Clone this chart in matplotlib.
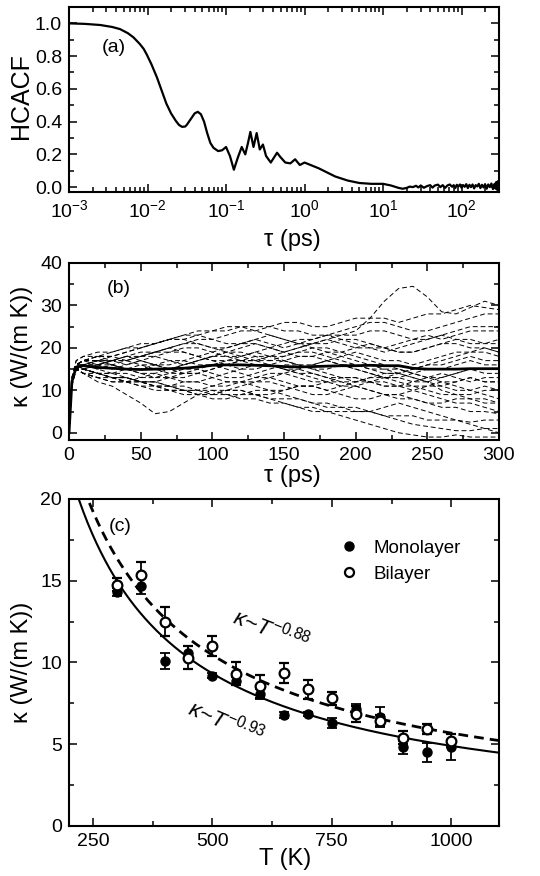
import numpy as np
import matplotlib
matplotlib.use("Agg")
import matplotlib.pyplot as plt
from matplotlib.ticker import MultipleLocator, LogLocator, NullFormatter
from matplotlib.lines import Line2D

plt.rcParams['font.family'] = ['Liberation Sans', 'DejaVu Sans']
plt.rcParams['mathtext.fontset'] = 'custom'
plt.rcParams['mathtext.rm'] = 'Liberation Sans'
plt.rcParams['mathtext.it'] = 'Liberation Sans:italic'

# ---- panel (a): HCACF vs log10(tau)
hc_logtau = [-3.0, -2.8, -2.6, -2.45, -2.35, -2.25, -2.18, -2.1, -2.05, -2.01, -1.95,
             -1.88, -1.82, -1.76, -1.7, -1.64, -1.6, -1.56, -1.52, -1.5, -1.45, -1.4, -1.36,
             -1.32, -1.28, -1.24, -1.2, -1.16, -1.1, -1.05, -1.0, -0.95, -0.9,
             -0.85, -0.8, -0.755, -0.72, -0.69, -0.65, -0.61, -0.57, -0.53, -0.49,
             -0.43, -0.39, -0.35, -0.31, -0.245, -0.18, -0.12, -0.06, 0.0, 0.18,
             0.39, 0.55, 0.7, 0.85, 1.0, 1.1, 1.2, 1.25,
             1.3, 1.34, 1.38, 1.42, 1.45, 1.48, 1.52, 1.56, 1.6, 1.63,
             1.66, 1.7, 1.73, 1.76, 1.79, 1.82, 1.85, 1.88, 1.9, 1.92,
             1.94, 1.96, 1.98, 2.0, 2.02, 2.04, 2.06, 2.08, 2.1, 2.12,
             2.14, 2.16, 2.18, 2.2, 2.22, 2.24, 2.26, 2.28, 2.3, 2.32,
             2.34, 2.36, 2.38, 2.4, 2.42, 2.43, 2.44, 2.45, 2.46, 2.47, 2.477]
hcacf = [1.0, 0.997, 0.99, 0.978, 0.965, 0.94, 0.915, 0.875, 0.845, 0.81, 0.75,
         0.67, 0.59, 0.51, 0.45, 0.405, 0.38, 0.368, 0.37, 0.38, 0.415, 0.45, 0.46,
         0.445, 0.40, 0.33, 0.27, 0.24, 0.22, 0.225, 0.245, 0.19, 0.106,
         0.18, 0.245, 0.20, 0.27, 0.337, 0.245, 0.33, 0.23, 0.26, 0.19,
         0.15, 0.18, 0.21, 0.185, 0.15, 0.145, 0.17, 0.135, 0.15, 0.115,
         0.065, 0.04, 0.025, 0.02, 0.02, 0.01, -0.005, -0.01,
         -0.005, 0.003, 0.0, 0.008, -0.002, 0.01, -0.004, 0.006, 0.012, -0.003,
         0.01, 0.015, 0.0, 0.012, -0.005, 0.01, 0.016, 0.002, 0.012, -0.006,
         0.014, 0.004, 0.016, -0.004, 0.012, 0.002, 0.018, -0.006, 0.014, 0.0,
         0.016, -0.008, 0.012, 0.004, 0.02, -0.006, 0.014, -0.002, 0.018, -0.01,
         0.016, 0.0, 0.022, -0.012, 0.02, -0.008, 0.03, -0.015, 0.035, -0.02, 0.04]

# ---- panel (b): running kappa integrals
kap_tau = [0, 2, 5] + list(range(10, 301, 10))
kap_mean = [0, 12, 15.5, 15.8, 15.4, 15.2, 15.0, 14.9, 15.0, 15.1, 15.2, 15.5, 15.9,
            16.0, 16.0, 15.9, 15.8, 15.6, 15.5, 15.6, 15.7, 15.8, 15.8,
            15.9, 15.8, 15.8, 15.2, 15.0, 15.0, 15.0, 15.1, 15.1, 15.1]
kap_runs = [
    [0, 12, 16, 17, 17, 18, 19, 20, 21, 22, 22, 23, 24, 24, 25, 25, 25, 24, 24, 23, 23, 23, 24, 27, 31, 34, 34.5, 32, 28.5, 28, 29.5, 31, 30],
    [0, 12, 15, 16, 17, 17, 18, 18, 19, 20, 21, 22, 22, 23, 24, 24, 25, 26, 26, 25, 25, 26, 27, 27, 27, 26, 27, 28, 28, 29, 30, 29.5, 29],
    [0, 13, 17, 18, 19, 19, 20, 20, 21, 22, 23, 23, 22, 21, 21, 22, 23, 22, 21, 21, 22, 23, 23, 24, 24, 23, 22, 22, 23, 24, 25, 25, 25],
    [0, 12, 16, 17, 18, 18, 17, 18, 19, 20, 19, 18, 19, 20, 21, 22, 21, 20, 21, 22, 23, 22, 21, 20, 20, 21, 22, 23, 22, 23, 24, 24, 24],
    [0, 11, 15, 16, 15, 16, 17, 18, 18, 17, 16, 17, 18, 19, 20, 21, 20, 19, 20, 21, 22, 21, 20, 20, 19, 20, 21, 22, 23, 22, 22, 21, 22],
    [0, 12, 16, 15, 16, 17, 16, 17, 18, 19, 19, 18, 17, 17, 18, 19, 18, 18, 19, 20, 20, 19, 20, 21, 20, 19, 19, 20, 21, 22, 21, 21, 21],
    [0, 12, 15, 16, 16, 15, 16, 17, 16, 15, 16, 17, 18, 19, 19, 18, 17, 17, 16, 16, 17, 18, 19, 18, 17, 17, 16, 17, 18, 19, 19, 20, 19],
    [0, 12, 16, 17, 17, 16, 15, 15, 16, 17, 17, 16, 16, 17, 17, 18, 18, 17, 16, 15, 15, 16, 16, 15, 14, 14, 15, 16, 16, 17, 18, 17, 17],
    [0, 13, 16, 16, 15, 14, 14, 13, 14, 15, 16, 17, 18, 18, 17, 16, 16, 15, 15, 16, 17, 16, 15, 14, 13, 13, 14, 15, 15, 16, 17, 16, 16],
    [0, 12, 15, 16, 16, 17, 17, 16, 15, 14, 14, 15, 16, 15, 14, 13, 13, 14, 15, 14, 13, 12, 12, 13, 14, 14, 13, 12, 13, 14, 15, 14, 14],
    [0, 12, 15, 14, 14, 13, 13, 12, 12, 13, 14, 14, 13, 12, 12, 13, 14, 14, 13, 12, 12, 13, 13, 12, 11, 11, 12, 13, 14, 13, 12, 13, 13],
    [0, 12, 15, 15, 14, 13, 12, 12, 11, 11, 12, 12, 11, 11, 12, 12, 13, 12, 11, 11, 10, 11, 12, 13, 13, 12, 11, 11, 12, 12, 13, 12, 12],
    [0, 12, 15, 15, 14, 14, 13, 12, 12, 11, 10, 10, 11, 12, 12, 11, 10, 10, 11, 11, 12, 12, 11, 10, 9, 9, 10, 11, 11, 10, 10, 11, 10],
    [0, 11, 15, 14, 13, 12, 12, 11, 11, 10, 10, 9, 9, 10, 10, 9, 9, 10, 11, 11, 10, 9, 8, 8, 9, 9, 8, 7, 7, 8, 8, 7, 7],
    [0, 12, 15, 14, 12, 11, 9, 7, 4.5, 5, 7, 9, 10, 10, 11, 12, 12, 11, 10, 9, 9, 10, 11, 10, 9, 8, 8, 7, 6, 6, 5, 5, 4.5],
    [0, 12, 16, 15, 14, 13, 13, 12, 12, 11, 10, 10, 9, 9, 8, 8, 7, 7, 6, 6, 5, 5, 5, 5, 4, 4, 4, 3, 3, 3, 2.5, 3, 3],
    [0, 12, 15, 14, 13, 13, 12, 12, 11, 11, 11, 10, 10, 9, 9, 9, 8, 8, 8, 7, 7, 6, 6, 5, 4, 3, 2, 1.5, 1, 0.5, 0.5, 1, 1],
    [0, 12, 15, 15, 14, 13, 13, 12, 11, 10, 10, 9, 9, 10, 10, 9, 8, 7, 6, 5, 5, 4, 3, 2, 1, 0, -0.5, -1, -1, -0.5, -1, -1, -1],
    [0, 12, 16, 16, 17, 17, 18, 19, 19, 20, 21, 21, 20, 19, 18, 17, 17, 18, 19, 19, 18, 17, 16, 15, 15, 14, 13, 12, 10, 9, 8, 8, 7],
    [0, 12, 16, 17, 18, 18, 19, 20, 21, 22, 22, 21, 20, 20, 21, 21, 20, 19, 18, 18, 19, 19, 18, 17, 16, 15, 14, 13, 13, 14, 15, 15, 15],
    [0, 12, 15, 15, 14, 14, 15, 16, 16, 15, 14, 14, 15, 16, 17, 17, 18, 19, 20, 21, 21, 22, 22, 21, 20, 19, 19, 20, 21, 21, 20, 20, 19],
    [0, 12, 15, 14, 13, 12, 12, 13, 13, 14, 15, 15, 14, 13, 13, 14, 15, 16, 16, 15, 14, 13, 13, 12, 12, 11, 11, 10, 9, 9, 9, 10, 10],
    [0, 12, 16, 17, 18, 19, 20, 21, 21, 22, 23, 24, 24, 25, 25, 24, 23, 22, 21, 20, 19, 18, 17, 16, 15, 15, 14, 13, 12, 11, 10, 9, 8],
    [0, 12, 15, 15, 14, 13, 12, 11, 10, 10, 9, 9, 8, 8, 9, 10, 10, 9, 8, 7, 6, 6, 5, 5, 6, 7, 6, 5, 4, 3, 2, 1, 0],
    [0, 13, 17, 18, 18, 17, 17, 18, 19, 19, 20, 20, 19, 18, 18, 19, 20, 21, 22, 22, 23, 24, 25, 26, 26, 25, 24, 24, 25, 26, 27, 28, 28],
    [0, 12, 15, 16, 17, 16, 15, 14, 13, 13, 12, 12, 13, 14, 15, 16, 16, 15, 14, 13, 12, 11, 11, 12, 13, 14, 15, 16, 17, 18, 19, 19, 18],
    [0, 12, 15, 15, 16, 16, 15, 14, 14, 13, 13, 14, 15, 16, 17, 17, 16, 15, 14, 14, 13, 13, 12, 12, 11, 11, 10, 9, 8, 7, 7, 6, 5],
    [0, 12, 16, 17, 16, 17, 18, 17, 16, 16, 17, 18, 17, 16, 15, 15, 16, 17, 18, 18, 17, 16, 15, 14, 13, 13, 12, 12, 11, 12, 13, 12, 12],
]

# ---- panel (c): kappa vs temperature
temps = [300, 350, 400, 450, 500, 550, 600, 650, 700, 750, 800, 850, 900, 950, 1000]
mono_k = [14.3, 14.7, 10.1, 10.6, 9.2, 8.85, 8.05, 6.8, 6.85, 6.3, 7.15, 6.65, 4.8, 4.5, 4.85]
mono_err = [0.25, 0.5, 0.5, 0.4, 0.15, 0.25, 0.3, 0.2, 0.1, 0.3, 0.3, 0.6, 0.4, 0.6, 0.8]
bi_k = [14.75, 15.35, 12.5, 10.3, 11.0, 9.3, 8.55, 9.35, 8.35, 7.8, 6.85, 6.45, 5.4, 5.95, 5.2]
bi_err = [0.4, 0.8, 0.9, 0.7, 0.6, 0.7, 0.7, 0.6, 0.6, 0.4, 0.5, 0.35, 0.4, 0.3, 0.4]
fit_mono = (3020.0, 0.93)
fit_bi = (2480.0, 0.88)

fig = plt.figure(figsize=(5.4, 8.76), dpi=100)
ax1 = fig.add_axes([0.1278, 0.7808, 0.7963, 0.2112])
ax2 = fig.add_axes([0.1278, 0.4977, 0.7963, 0.2021])
ax3 = fig.add_axes([0.1278, 0.0571, 0.7963, 0.3733])

for ax in (ax1, ax2, ax3):
    for s in ax.spines.values():
        s.set_linewidth(1.5)
    ax.tick_params(which='both', direction='in', top=True, right=True,
                   labelsize=14, width=1.1, pad=5)
    ax.tick_params(which='major', length=6)
    ax.tick_params(which='minor', length=3.5)

# (a)
ax1.plot(10 ** np.array(hc_logtau), hcacf, color='black', lw=1.6)
ax1.set_xscale('log')
ax1.set_xlim(1e-3, 300)
ax1.set_ylim(-0.03, 1.1)
ax1.xaxis.set_major_locator(LogLocator(base=10, numticks=10))
ax1.xaxis.set_minor_locator(LogLocator(base=10, subs=np.arange(2, 10), numticks=20))
ax1.xaxis.set_minor_formatter(NullFormatter())
ax1.yaxis.set_minor_locator(MultipleLocator(0.1))
ax1.set_yticks([0, 0.2, 0.4, 0.6, 0.8, 1.0])
ax1.set_yticklabels(['0.0', '0.2', '0.4', '0.6', '0.8', '1.0'])
ax1.set_ylabel('HCACF', fontsize=18)
ax1.set_xlabel('τ (ps)', fontsize=17)
ax1.yaxis.set_label_coords(-0.084, 0.52)
ax1.xaxis.set_label_coords(0.52, -0.2)
ax1.text(0.105, 0.78, '(a)', transform=ax1.transAxes, fontsize=14, ha='center', va='center')

# (b)
for run in kap_runs:
    ax2.plot(kap_tau, run, color='black', lw=0.7, dashes=(5, 3))
ax2.plot(kap_tau, kap_mean, color='black', lw=2.0)
ax2.set_xlim(0, 300)
ax2.set_ylim(-1.7, 40)
ax2.xaxis.set_major_locator(MultipleLocator(50))
ax2.xaxis.set_minor_locator(MultipleLocator(25))
ax2.yaxis.set_major_locator(MultipleLocator(10))
ax2.yaxis.set_minor_locator(MultipleLocator(5))
ax2.set_ylabel('κ (W/(m K))', fontsize=17)
ax2.set_xlabel('τ (ps)', fontsize=17)
ax2.yaxis.set_label_coords(-0.084, 0.53)
ax2.xaxis.set_label_coords(0.52, -0.14)
ax2.text(0.116, 0.857, '(b)', transform=ax2.transAxes, fontsize=14, ha='center', va='center')

# (c)
tt = np.linspace(200, 1100, 300)
ax3.plot(tt, fit_mono[0] * tt ** (-fit_mono[1]), color='black', lw=1.5)
ax3.plot(tt, fit_bi[0] * tt ** (-fit_bi[1]), color='black', lw=2.0, dashes=(3.5, 2.2))
ax3.errorbar(temps, mono_k, yerr=mono_err, fmt='o', color='black', ms=6.5,
             capsize=3.8, elinewidth=1.3, capthick=1.3, zorder=3)
ax3.errorbar(temps, bi_k, yerr=bi_err, fmt='o', color='black', mfc='white', mew=1.6,
             ms=7, capsize=3.8, elinewidth=1.3, capthick=1.3, zorder=4)
ax3.set_xlim(200, 1100)
ax3.set_ylim(0, 20)
ax3.xaxis.set_major_locator(MultipleLocator(250))
ax3.xaxis.set_minor_locator(MultipleLocator(125))
ax3.yaxis.set_major_locator(MultipleLocator(5))
ax3.yaxis.set_minor_locator(MultipleLocator(2.5))
ax3.set_ylabel('κ (W/(m K))', fontsize=17)
ax3.set_xlabel('T (K)', fontsize=17)
ax3.yaxis.set_label_coords(-0.083, 0.5)
ax3.xaxis.set_label_coords(0.502, -0.068)
ax3.text(0.119, 0.915, '(c)', transform=ax3.transAxes, fontsize=14, ha='center', va='center')
ax3.text(545, 12.9, r'$\kappa$~$T^{-0.88}$', fontsize=16, rotation=-21,
         rotation_mode='anchor', ha='left', va='center')
ax3.text(452, 7.3, r'$\kappa$~$T^{-0.93}$', fontsize=16, rotation=-23,
         rotation_mode='anchor', ha='left', va='center')

handles = [Line2D([], [], ls='none', marker='o', color='black', ms=6.5),
           Line2D([], [], ls='none', marker='o', color='black', mfc='white', mew=1.6, ms=6.5)]
ax3.legend(handles, ['Monolayer', 'Bilayer'], loc='upper left',
           bbox_to_anchor=(0.629, 0.875), frameon=False, fontsize=13.5,
           handlelength=1.0, handletextpad=0.8, borderpad=0, borderaxespad=0,
           labelspacing=0.45)

fig.savefig('out.png', dpi=100)
